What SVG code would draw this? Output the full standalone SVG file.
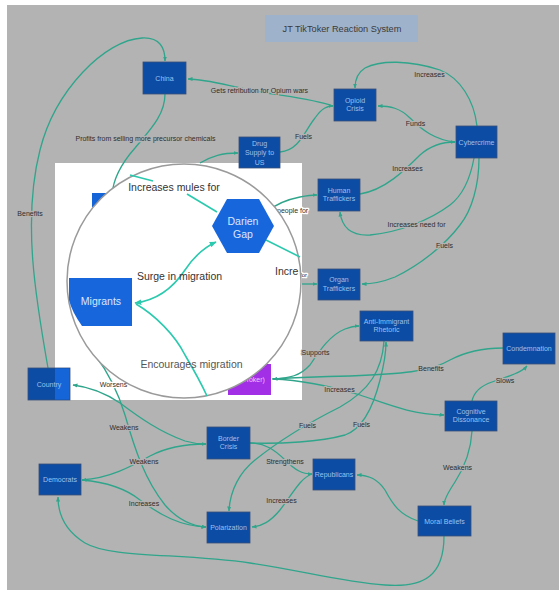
<svg xmlns="http://www.w3.org/2000/svg" width="559" height="591" viewBox="0 0 559 591">
<style>
.bg{fill:#b3b3b3}
.nd{fill:#0c4ca4;stroke:#3a5078;stroke-width:0.8}
.nt{font-family:"Liberation Sans",Arial,sans-serif;font-size:7px;fill:#9dc0ee;text-anchor:middle}
.c{fill:none;stroke:#2fa58b;stroke-width:1.3}
.ci{fill:none;stroke:#2bc9ae;stroke-width:1.6}
.lb{font-family:"Liberation Sans",Arial,sans-serif;font-size:7px;fill:#2e2e2e;text-anchor:middle;stroke:#b3b3b3;stroke-width:2.5;paint-order:stroke;stroke-linejoin:round}
.big{font-family:"Liberation Sans",Arial,sans-serif;font-size:10.5px;fill:#333;text-anchor:middle}
.bn{fill:#1866dc}
.bt{font-family:"Liberation Sans",Arial,sans-serif;font-size:10.5px;fill:#d8e6ff;text-anchor:middle}
</style>
<defs>
<marker id="ah" viewBox="0 0 10 10" refX="9" refY="5" markerWidth="5" markerHeight="5" markerUnits="userSpaceOnUse" orient="auto-start-reverse"><path d="M0,1 L10,5 L0,9 z" fill="#2fa58b"/></marker>
<marker id="ahi" viewBox="0 0 10 10" refX="9" refY="5" markerWidth="7" markerHeight="7" markerUnits="userSpaceOnUse" orient="auto-start-reverse"><path d="M0,1 L10,5 L0,9 z" fill="#2bc9ae"/></marker>
</defs>
<rect x="0" y="0" width="559" height="591" fill="#ffffff"/>
<rect class="bg" x="7" y="5" width="552" height="585"/>
<g id="title"><rect x="265" y="15" width="153" height="27" fill="#9fb2cb"/><text x="342" y="31.5" font-family="Liberation Sans,Arial,sans-serif" font-size="9.2" fill="#3a3a3a" text-anchor="middle">JT TikToker Reaction System</text></g>
<rect id="zoomPanel" x="55" y="163" width="247" height="237" fill="#ffffff"/>
<g id="connectors">
<path class="c" d="M48,368 C36,300 22,220 40,150 C55,90 105,40 142,38 C160,37 165,48 165,61" marker-end="url(#ah)"/>
<path class="c" d="M165,94 C165,115 150,130 135,148 C120,165 113,180 112,195"/>
<path class="c" d="M200,163 C212,156 222,153 238,153" marker-end="url(#ah)"/>
<path class="c" d="M280,152 C300,150 305,130 315,118 C322,108 327,106 333,106" marker-end="url(#ah)"/>
<path class="c" d="M333,106 C310,98 280,96 250,90 C225,85 205,79 188,79" marker-end="url(#ah)"/>
<path class="c" d="M477,126 C474,100 460,78 440,70 C410,60 380,60 365,68 C357,73 355,80 355,88" marker-end="url(#ah)"/>
<path class="c" d="M455,142 C435,140 422,130 410,118 C400,108 390,106 378,106" marker-end="url(#ah)"/>
<path class="c" d="M360,194 C385,190 405,170 420,155 C430,146 440,142 455,142" marker-end="url(#ah)"/>
<path class="c" d="M474,158 C470,180 463,195 450,205 C430,220 400,232 370,235 C352,236 342,228 340,212" marker-end="url(#ah)"/>
<path class="c" d="M479,158 C479,185 472,210 460,225 C445,245 420,265 395,277 C380,283 370,284 362,284" marker-end="url(#ah)"/>
<path class="c" d="M302,284 L317,284" marker-end="url(#ah)"/>
<path class="c" d="M272,379 C290,378 300,376 310,365 C320,350 330,335 345,329 C350,327 354,326 359,326" marker-end="url(#ah)"/>
<path class="c" d="M503,348 C480,348 465,352 450,360 C430,372 400,374 350,376 C310,377 290,378 273,379" marker-end="url(#ah)"/>
<path class="c" d="M273,379 C300,380 330,386 360,395 C390,405 410,414 444,415" marker-end="url(#ah)"/>
<path class="c" d="M472,401 C474,392 480,386 492,382 C510,376 522,372 527,366" marker-end="url(#ah)"/>
<path class="c" d="M472,431 C471,450 466,465 455,482 C447,494 444,500 444,505" marker-end="url(#ah)"/>
<path class="c" d="M418,521 C400,515 393,505 385,490 C378,480 370,475 357,475" marker-end="url(#ah)"/>
<path class="c" d="M444,536 C444,575 425,588 385,585 C340,582 300,570 250,563 C180,553 110,558 85,543 C64,530 58,512 58,497" marker-end="url(#ah)"/>
<path class="c" d="M73,385 C90,387 105,393 120,403 C140,418 160,432 185,441 C195,444 200,444 206,444" marker-start="url(#ah)" marker-end="url(#ah)"/>
<path class="c" d="M95,355 C108,372 118,392 125,415 C135,450 145,480 165,505 C178,520 192,526 206,527" marker-end="url(#ah)"/>
<path class="c" d="M206,444 C185,444 165,448 150,456 C130,467 110,478 82,480" marker-end="url(#ah)"/>
<path class="c" d="M82,480 C105,482 125,488 140,500 C160,515 180,526 206,527" marker-end="url(#ah)"/>
<path class="c" d="M250,443 C265,443 275,450 285,460 C295,470 302,474 312,474" marker-end="url(#ah)"/>
<path class="c" d="M250,443 C280,444 320,442 345,435 C365,428 375,400 380,380 C384,365 386,355 386,342" marker-end="url(#ah)"/>
<path class="c" d="M384,341 C382,370 370,390 340,407 C310,422 280,440 255,460 C240,472 230,490 229,511" marker-end="url(#ah)"/>
<path class="c" d="M312,474 C300,478 292,495 280,510 C270,522 262,526 252,527" marker-end="url(#ah)"/>
<path class="c" d="M268,211 C275,205 285,200 300,197 C305,196 310,195 317,195" marker-end="url(#ah)"/>
<text class="lb" x="30" y="215.5">Benefits</text>
<text class="lb" x="145.5" y="140.5">Profits from selling more precursor chemicals</text>
<text class="lb" x="259.5" y="93">Gets retribution for Opium wars</text>
<text class="lb" x="303.5" y="138.5">Fuels</text>
<text class="lb" x="429.5" y="76.5">Increases</text>
<text class="lb" x="415.5" y="125.5">Funds</text>
<text class="lb" x="407.5" y="170.5">Increases</text>
<text class="lb" x="416.5" y="226.5">Increases need for</text>
<text class="lb" x="444.5" y="247.5">Fuels</text>
<text class="lb" x="315.5" y="354.5">Supports</text>
<text class="lb" x="431" y="370.5">Benefits</text>
<text class="lb" x="505" y="382.5">Slows</text>
<text class="lb" x="339.5" y="391.5">Increases</text>
<text class="lb" x="307.5" y="427.5">Fuels</text>
<text class="lb" x="361.5" y="426.5">Fuels</text>
<text class="lb" x="285" y="463.5">Strengthens</text>
<text class="lb" x="281.5" y="502.5">Increases</text>
<text class="lb" x="457.5" y="469.5">Weakens</text>
<text class="lb" x="113.5" y="386.5" style="stroke:#ffffff">Worsens</text>
<text class="lb" x="124" y="429.5">Weakens</text>
<text class="lb" x="144" y="463.5">Weakens</text>
<text class="lb" x="144" y="505.5">Increases</text>
<text class="lb" x="277" y="212.5" style="text-anchor:start;stroke:#ffffff">people for</text>
<text class="lb" x="300" y="277" style="text-anchor:start;font-size:6px;stroke:#ffffff">for</text>
</g>
<g id="china"><rect class="nd" x="143" y="62" width="43" height="32"/><text class="nt" x="164.5" y="80.5">China</text></g>
<g id="opioid"><rect class="nd" x="334" y="89" width="42" height="32"/><text class="nt" x="355" y="102.5">Opioid</text><text class="nt" x="355" y="111">Crisis</text></g>
<g id="cybercrime"><rect class="nd" x="456" y="126" width="41" height="32"/><text class="nt" x="476.5" y="144.5">Cybercrime</text></g>
<g id="drug"><rect class="nd" x="239" y="137" width="41" height="31"/><text class="nt" x="259.5" y="145.5">Drug</text><text class="nt" x="259.5" y="155">Supply to</text><text class="nt" x="259.5" y="164.5">US</text></g>
<g id="human"><rect class="nd" x="318" y="179" width="42" height="32"/><text class="nt" x="339" y="192.5">Human</text><text class="nt" x="339" y="201">Traffickers</text></g>
<g id="organ"><rect class="nd" x="318" y="269" width="42" height="31"/><text class="nt" x="339" y="282">Organ</text><text class="nt" x="339" y="290.5">Traffickers</text></g>
<g id="rhetoric"><rect class="nd" x="360" y="311" width="53" height="30"/><text class="nt" x="386.5" y="323.5">Anti-Immigrant</text><text class="nt" x="386.5" y="332">Rhetoric</text></g>
<g id="condemnation"><rect class="nd" x="503" y="333" width="52" height="31"/><text class="nt" x="529" y="351">Condemnation</text></g>
<g id="cognitive"><rect class="nd" x="445" y="401" width="52" height="30"/><text class="nt" x="471" y="413.5">Cognitive</text><text class="nt" x="471" y="422">Dissonance</text></g>
<g id="moral"><rect class="nd" x="418" y="506" width="53" height="30"/><text class="nt" x="444.5" y="523.5">Moral Beliefs</text></g>
<g id="republicans"><rect class="nd" x="313" y="459" width="42" height="31"/><text class="nt" x="334" y="477">Republicans</text></g>
<g id="polarization"><rect class="nd" x="207" y="512" width="43" height="31"/><text class="nt" x="228.5" y="530">Polarization</text></g>
<g id="border"><rect class="nd" x="207" y="427" width="43" height="32"/><text class="nt" x="228.5" y="440.5">Border</text><text class="nt" x="228.5" y="449">Crisis</text></g>
<g id="democrats"><rect class="nd" x="39" y="464" width="42" height="31"/><text class="nt" x="60" y="482">Democrats</text></g>
<g id="country"><rect class="nd" x="28" y="368" width="42" height="32"/><rect x="55" y="368.4" width="14.6" height="31.2" fill="#1565d8"/><text class="nt" x="49" y="387">Country</text></g>
<g id="tiktoker"><rect x="228" y="364" width="43" height="31" fill="#a22ee6"/><text class="nt" x="249.5" y="382" style="fill:#ecc8ff">(TikToker)</text></g>
<g id="smallnode"><rect x="92" y="193" width="16" height="14" fill="#1565d8"/></g>
<g id="lens">
<circle cx="184" cy="281" r="117" fill="#ffffff" stroke="#9a9a9a" stroke-width="1.5"/>
<path class="ci" d="M130,175 L153,181"/>
<path class="ci" d="M187,194 L217,212"/>
<path class="ci" d="M266,240 C280,247 290,252 300,257"/>
<path class="ci" d="M135,303 C160,300 175,285 185,270 C195,255 205,247 216,242" marker-start="url(#ahi)" marker-end="url(#ahi)"/>
<path class="ci" d="M136,304 C155,315 175,335 185,355 C195,372 202,385 207,396"/>
<g id="darien"><polygon class="bn" points="212,226 227,199 259,199 274,226 259,253 227,253"/><text class="bt" x="243" y="225">Darien</text><text class="bt" x="243" y="238">Gap</text></g>
<g id="migrants"><path class="bn" d="M69,278 L132,278 L132,326 L82,326 Q72,312 69,300 Z"/><text class="bt" x="101" y="305">Migrants</text></g>
<text class="big" x="174" y="191">Increases mules for</text>
<text class="big" x="179.5" y="280">Surge in migration</text>
<text class="big" x="191.5" y="368" style="fill:#555">Encourages migration</text>
<text class="big" x="275" y="275" style="text-anchor:start">Incre</text>
</g>
</svg>
